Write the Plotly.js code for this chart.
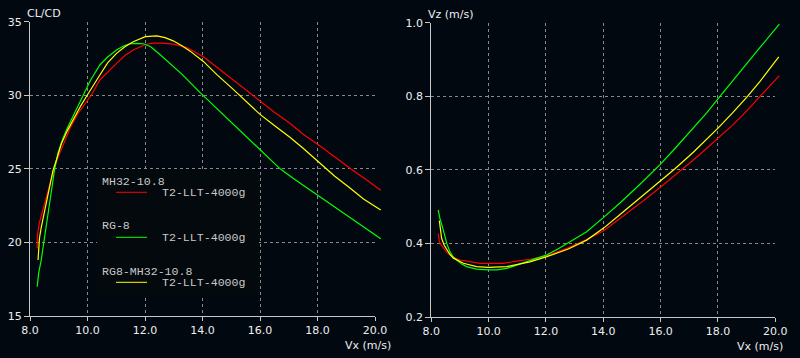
<!DOCTYPE html>
<html>
<head>
<meta charset="utf-8">
<script src="https://cdn.plot.ly/plotly-3.0.1.min.js"></script>
<style>
html,body{margin:0;padding:0;background:#020810;}
#chart{width:800px;height:358px;}
</style>
</head>
<body>
<div id="chart"></div>
<script>
// ---------- data: CL/CD vs Vx ----------
const redX_cl = [8.25,8.26,8.32,8.42,8.52,8.63,8.75,8.86,9.0,9.21,9.4,9.67,9.9,10.13,10.43,10.7,11.01,11.3,11.59,12.01,12.29,12.6,12.98,13.45,14.03,14.5,15.07,15.5,16.0,16.5,17.04,17.5,18.09,18.6,19.13,19.71,20.2];
const redY_cl = [19.6,20.5,21.3,22.0,22.8,23.56,24.4,25.15,25.9,26.96,27.8,28.77,29.4,30.0,31.04,31.6,32.17,32.7,33.08,33.45,33.55,33.55,33.48,33.25,32.62,31.9,31.04,30.4,29.6,28.85,28.1,27.35,26.55,25.8,25.04,24.24,23.55];

const grnX_cl = [8.25,8.30,8.39,8.48,8.57,8.65,8.74,8.85,8.97,9.15,9.32,9.6,9.84,10.1,10.43,10.7,11.01,11.25,11.48,11.7,11.95,12.2,12.5,12.87,13.3,13.91,14.5,15.07,15.5,16.0,16.7,17.2,18.09,18.6,19.13,19.6,20.2];
const grnY_cl = [17.0,17.9,18.8,20.0,21.07,22.2,23.56,24.9,26.06,27.1,27.86,29.0,30.0,31.0,32.06,32.6,33.08,33.35,33.5,33.53,33.5,33.3,32.8,32.17,31.4,30.2,29.1,28.0,27.2,26.25,25.0,24.3,23.1,22.45,21.75,21.1,20.25];

const yelX_cl = [8.28,8.30,8.33,8.39,8.47,8.57,8.68,8.8,8.95,9.09,9.3,9.55,9.77,9.99,10.2,10.43,10.7,11.01,11.3,11.59,12.01,12.41,12.7,12.98,13.3,13.57,14.03,14.5,15.07,15.5,16.0,16.5,17.04,17.5,18.09,18.6,19.13,19.6,20.2];
const yelY_cl = [18.8,19.6,20.3,21.0,21.8,22.66,23.8,24.9,25.8,26.7,27.6,28.54,29.3,30.0,30.7,31.38,32.2,32.85,33.3,33.64,33.98,34.03,33.92,33.7,33.35,33.0,32.3,31.4,30.4,29.6,28.7,27.95,27.15,26.4,25.35,24.5,23.7,22.95,22.2];

// ---------- data: Vz vs Vx ----------
const redX_vz = [8.24,8.28,8.35,8.42,8.55,8.65,8.8,9.0,9.35,9.70,9.99,10.51,10.98,11.44,12.03,12.4,12.78,13.4,14.0,14.5,15.05,15.5,15.98,16.5,17.14,17.6,18.01,18.5,18.88,19.41,20.1,20.14];
const redY_vz = [0.427,0.405,0.395,0.387,0.375,0.369,0.361,0.355,0.350,0.346,0.346,0.346,0.352,0.357,0.366,0.376,0.388,0.410,0.434,0.463,0.495,0.522,0.552,0.585,0.627,0.658,0.686,0.721,0.750,0.795,0.853,0.856];

const grnX_vz = [8.24,8.3,8.42,8.54,8.65,8.77,8.89,9.05,9.23,9.58,9.99,10.28,10.63,10.98,11.44,12.03,12.4,12.78,13.42,14.0,14.58,15.28,15.98,16.5,17.14,17.6,18.07,18.5,18.88,19.46,19.99,20.14];
const grnY_vz = [0.491,0.468,0.436,0.400,0.377,0.363,0.355,0.345,0.337,0.330,0.328,0.328,0.332,0.341,0.352,0.369,0.384,0.402,0.432,0.470,0.510,0.561,0.614,0.658,0.713,0.754,0.800,0.840,0.876,0.932,0.982,0.996];

const yelX_vz = [8.28,8.32,8.36,8.45,8.54,8.65,8.77,8.95,9.12,9.58,9.99,10.63,10.98,11.44,12.03,12.4,12.78,13.42,14.0,14.5,15.05,15.5,15.98,16.5,17.14,17.6,18.01,18.5,19.0,19.46,20.12];
const yelY_vz = [0.462,0.435,0.414,0.395,0.382,0.370,0.360,0.352,0.346,0.337,0.335,0.337,0.343,0.350,0.364,0.374,0.385,0.409,0.441,0.473,0.508,0.537,0.569,0.603,0.648,0.682,0.714,0.754,0.797,0.840,0.907];

// ---------- ticks / labels ----------
const xTickVals = [8,10,12,14,16,18,20];
const xTickText = ['8.0','10.0','12.0','14.0','16.0','18.0','20.0'];
const clTickVals = [15,20,25,30,35];
const clTickText = ['15','20','25','30','35'];
const vzTickVals = [0.2,0.4,0.6,0.8,1.0];
const vzTickText = ['0.2','0.4','0.6','0.8','1.0'];
const seriesNames = ['MH32-10.8','RG-8','RG8-MH32-10.8'];
const seriesSub = 'T2-LLT-4000g';
const colors = ['#ff0000','#00ff00','#ffff00'];

// ---------- layout helpers ----------
const W = 800, H = 358;
const px = v => v / W;
const py = v => 1 - v / H;
const bg = '#020810';
const gridC = '#8a8a8a';
const axC = '#c8c8c8';
const txtC = '#eeeeee';
const tickFont = {family:'DejaVu Sans, sans-serif', size:11, color:txtC};

function visAxisX(dom){
  return {domain:dom, range:[8,20], tickvals:xTickVals, ticktext:xTickText,
    showgrid:true, gridcolor:gridC, griddash:'dot', gridwidth:1,
    showline:true, linecolor:axC, linewidth:1, ticks:'outside', ticklen:4, tickcolor:axC,
    tickfont:tickFont, zeroline:false, fixedrange:true};
}
function visAxisY(dom, rng, tv, tt){
  return {domain:dom, range:rng, tickvals:tv, ticktext:tt,
    showgrid:true, gridcolor:gridC, griddash:'dot', gridwidth:1,
    showline:true, linecolor:axC, linewidth:1, ticks:'outside', ticklen:5, tickcolor:axC,
    tickfont:tickFont, zeroline:false, fixedrange:true};
}
function hidAxis(dom, rng){
  return {domain:dom, range:rng, visible:false, showgrid:false, zeroline:false, fixedrange:true};
}

const lX = [30/W, 375/W], lXd = [30/W, (30+28.75*12.3)/W];
const lY = [py(316), py(21.7)];
const rX = [431.3/W, 775.3/W], rXd = [431.3/W, (431.3+28.667*12.3)/W];
const rY = [py(317), py(22.7)];

const layout = {
  width:W, height:H,
  margin:{l:0,r:0,t:0,b:0,pad:0},
  paper_bgcolor:bg, plot_bgcolor:'rgba(0,0,0,0)',
  showlegend:false,
  xaxis: Object.assign(visAxisX(lX), {anchor:'y'}),
  yaxis: Object.assign(visAxisY(lY,[15,35],clTickVals,clTickText), {anchor:'x'}),
  xaxis2: Object.assign(visAxisX(rX), {anchor:'y2'}),
  yaxis2: Object.assign(visAxisY(rY,[0.2,1.0],vzTickVals,vzTickText), {anchor:'x2'}),
  xaxis3: Object.assign(hidAxis(lXd,[8,20.3]), {anchor:'y3'}),
  yaxis3: Object.assign(hidAxis(lY,[15,35]), {anchor:'x3'}),
  xaxis4: Object.assign(hidAxis(rXd,[8,20.3]), {anchor:'y4'}),
  yaxis4: Object.assign(hidAxis(rY,[0.2,1.0]), {anchor:'x4'}),
  shapes:[], annotations:[]
};

// legend box (covers grid)
layout.shapes.push({type:'rect', xref:'paper', yref:'paper', layer:'above',
  x0:px(97), x1:px(259), y0:py(295), y1:py(171), fillcolor:'#03090d', line:{width:0}});

const legRows = [181, 226, 271];
const monoFont = {family:'Liberation Mono, DejaVu Sans Mono, monospace', size:11.6, color:'#c8c8c8'};
seriesNames.forEach((n,i)=>{
  const ty = legRows[i];
  layout.annotations.push({text:n, xref:'paper', yref:'paper', x:px(100), y:py(ty),
    xanchor:'left', yanchor:'middle', showarrow:false, font:monoFont});
  layout.annotations.push({text:seriesSub, xref:'paper', yref:'paper', x:px(160), y:py(ty+11.5),
    xanchor:'left', yanchor:'middle', showarrow:false, font:monoFont});
  layout.shapes.push({type:'line', xref:'paper', yref:'paper', layer:'above',
    x0:px(116), x1:px(147), y0:py(ty+11.3), y1:py(ty+11.3), line:{color:colors[i], width:1}});
});

// axis titles
const titleFont = {family:'DejaVu Sans, sans-serif', size:11, color:txtC};
[['CL/CD',25,13.5],['Vx (m/s)',343,345],['Vz (m/s)',426,14],['Vx (m/s)',735,346]].forEach(t=>{
  layout.annotations.push({text:t[0], xref:'paper', yref:'paper', x:px(t[1]), y:py(t[2]),
    xanchor:'left', yanchor:'middle', showarrow:false, font:titleFont});
});

const lw = 1.2;
const traces = [
  {x:[], y:[], xaxis:'x', yaxis:'y', type:'scatter', mode:'lines', hoverinfo:'skip'},
  {x:[], y:[], xaxis:'x2', yaxis:'y2', type:'scatter', mode:'lines', hoverinfo:'skip'},
  {x:redX_cl, y:redY_cl, xaxis:'x3', yaxis:'y3', type:'scatter', mode:'lines', line:{color:colors[0], width:lw}, name:seriesNames[0]},
  {x:grnX_cl, y:grnY_cl, xaxis:'x3', yaxis:'y3', type:'scatter', mode:'lines', line:{color:colors[1], width:lw}, name:seriesNames[1]},
  {x:yelX_cl, y:yelY_cl, xaxis:'x3', yaxis:'y3', type:'scatter', mode:'lines', line:{color:colors[2], width:lw}, name:seriesNames[2]},
  {x:redX_vz, y:redY_vz, xaxis:'x4', yaxis:'y4', type:'scatter', mode:'lines', line:{color:colors[0], width:lw}, name:seriesNames[0]},
  {x:grnX_vz, y:grnY_vz, xaxis:'x4', yaxis:'y4', type:'scatter', mode:'lines', line:{color:colors[1], width:lw}, name:seriesNames[1]},
  {x:yelX_vz, y:yelY_vz, xaxis:'x4', yaxis:'y4', type:'scatter', mode:'lines', line:{color:colors[2], width:lw}, name:seriesNames[2]}
];

Plotly.newPlot('chart', traces, layout, {staticPlot:true, displayModeBar:false});
</script>
</body>
</html>
